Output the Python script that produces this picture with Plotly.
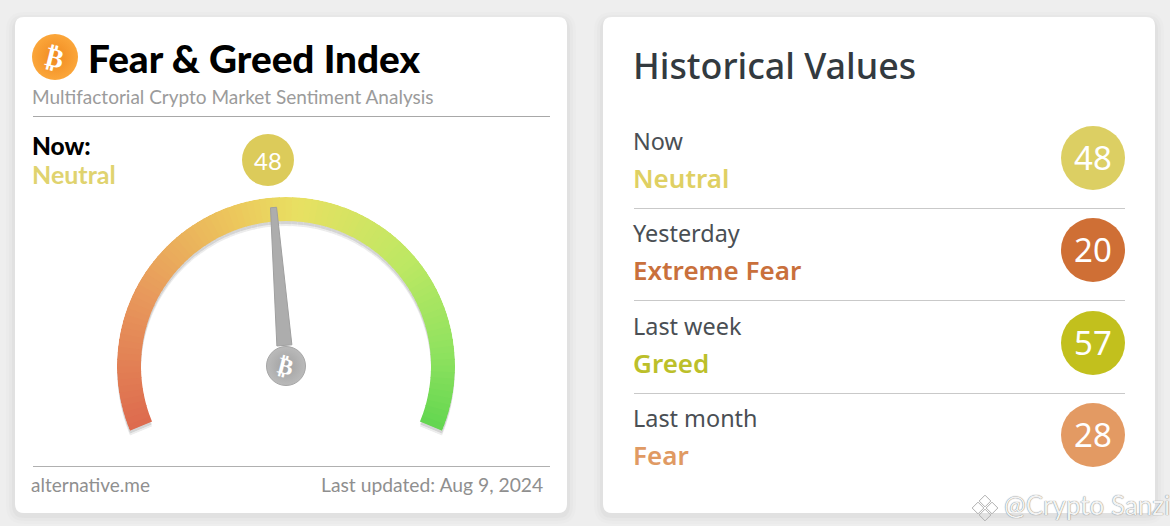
# %%
import plotly.graph_objects as go
from plotly.colors import sample_colorscale

# %% data
periods = ['Now', 'Yesterday', 'Last week', 'Last month']
labels = ['Neutral', 'Extreme Fear', 'Greed', 'Fear']
values = [48, 20, 57, 28]
row_colours = ['#dfd063', '#c9703c', '#bcbf2a', '#e09a63']
disc_colours = ['#dccf63', '#cf6f35', '#c2c01d', '#e39a63']
current_value = 48
current_label = 'Neutral'

gauge_stops = [[0, '#dd6a4e'], [0.22, '#e8995c'], [0.42, '#ecc85c'], [0.52, '#e8e062'],
               [0.72, '#bde863'], [0.88, '#8fe25f'], [1, '#63d650']]

W, H = 1170, 526
lato = 'Lato'
nun = 'Noto Sans'
row_y = [141, 233, 326, 418]
sub_y = [178, 270, 363, 455]
disc_y = [158, 250, 343, 435]
rule_y = [208, 300, 393]


def card(x0, y0, x1, y1, r=9):
    return (f'M{x0+r},{y0} L{x1-r},{y0} Q{x1},{y0} {x1},{y0+r} L{x1},{y1-r} Q{x1},{y1} {x1-r},{y1} '
            f'L{x0+r},{y1} Q{x0},{y1} {x0},{y1-r} L{x0},{y0+r} Q{x0},{y0} {x0+r},{y0} Z')


def label(x, y, text, size, colour, family=lato, weight=400, anchor='left'):
    # annotations carry about 3px of padding on the left
    fig.add_annotation(x=x, y=y, text=text, showarrow=False, xanchor=anchor, yanchor='middle',
                       xshift=-3 if anchor == 'left' else 2, xref='x', yref='y',
                       font=dict(family=family, size=size, color=colour, weight=weight))


def rule(x0, x1, y, colour):
    fig.add_shape(type='line', x0=x0, x1=x1, y0=y + 0.5, y1=y + 0.5, line=dict(color=colour, width=1), layer='below')


fig = go.Figure()

# %% cards
for x0, x1 in [(15, 567), (603, 1155)]:
    for grow, alpha in [(9, 0.012), (6, 0.016), (3, 0.022)]:
        fig.add_shape(type='path', path=card(x0-grow, 17-grow+4, x1+grow, 513+grow+2, 9+grow), fillcolor=f'rgba(0,0,0,{alpha})',
                      line_width=0, layer='below')
    fig.add_shape(type='path', path=card(x0, 17, x1, 513), fillcolor='white', line_width=0, layer='below')

# %% left card header
fig.add_trace(go.Scatter(x=[55], y=[57], mode='markers', hoverinfo='skip', showlegend=False,
                         marker=dict(size=46, color='#fba63a', line_width=0,
                                     gradient=dict(type='radial', color='#f08a20'))))
fig.add_annotation(x=55, y=57, text='₿', textangle=14, showarrow=False, xref='x', yref='y',
                   font=dict(family='DejaVu Sans', size=27, color='white', weight=700))
label(89, 58, 'Fear &amp; Greed Index', 38.7, '#000000', weight=900)
label(33, 96, 'Multifactorial Crypto Market Sentiment Analysis', 19, '#9b9b9b')
rule(33, 550, 116, '#a8a8a8')
label(33, 145, 'Now:', 24.5, '#000000', weight=900)
label(33, 174, current_label, 25, '#e0d36f', weight=700)
fig.add_trace(go.Scatter(x=[268], y=[160], mode='markers', hoverinfo='skip', showlegend=False,
                         marker=dict(size=52, color='#dccb5a', line_width=0)))
fig.add_annotation(x=268, y=160, text=str(current_value), showarrow=False, xref='x', yref='y',
                   font=dict(family=lato, size=24, color='white'))
rule(33, 550, 466, '#b0b0b0')
label(32, 484, 'alternative.me', 19, '#8f8f8f')
label(543, 484, 'Last updated: Aug 9, 2024', 19.3, '#8f8f8f', anchor='right')

# %% gauge
steps = [i + 0.5 for i in range(100)]
gauge_colours = sample_colorscale(gauge_stops, [s / 100 for s in steps])
thetas = [s * 2.25 for s in steps]
for sub, op in [('polar', 0.07), ('polar2', 0.10)]:
    fig.add_trace(go.Barpolar(theta=thetas, r=[24] * 100, base=145, width=2.3, subplot=sub, opacity=op, hoverinfo='skip',
                              marker=dict(color='#000000', line_width=0), showlegend=False))
fig.add_trace(go.Barpolar(theta=thetas, r=[24] * 100, base=145, width=2.6, subplot='polar3', hoverinfo='skip',
                          marker=dict(color=gauge_colours, line_width=0), showlegend=False))
needle_theta = current_value * 2.25
fig.add_trace(go.Scatterpolar(r=[159, 159, 22, 22, 159],
                              theta=[needle_theta - 1.1, needle_theta + 1.1, needle_theta + 20,
                                     needle_theta - 20, needle_theta - 1.1],
                              mode='lines', fill='toself', fillcolor='#adadad', subplot='polar3', hoverinfo='skip',
                              line=dict(color='#9f9f9f', width=1), cliponaxis=False, showlegend=False))
fig.add_trace(go.Scatterpolar(r=[0], theta=[0], mode='markers', subplot='polar3', hoverinfo='skip', cliponaxis=False,
                              marker=dict(size=39, color='#bababa', line=dict(color='#a6a6a6', width=1),
                                          gradient=dict(type='radial', color='#a0a0a0')), showlegend=False))
fig.add_annotation(x=285.5, y=366, text='₿', textangle=14, showarrow=False, xref='x', yref='y',
                   font=dict(family='DejaVu Sans', size=23, color='white', weight=700))

# %% right card
label(634, 65, 'Historical Values', 35.8, '#333a3f', family=nun, weight=500)
for i in range(4):
    label(634, row_y[i], periods[i], 23.4, '#4a4f54', family=nun)
    label(634, sub_y[i], labels[i], 26, row_colours[i], family=nun, weight=600)
fig.add_trace(go.Scatter(x=[1093] * 4, y=disc_y, mode='markers', hoverinfo='skip', showlegend=False,
                         marker=dict(size=64, color=disc_colours, line_width=0)))
for i in range(4):
    fig.add_annotation(x=1093, y=disc_y[i] - 1, text=str(values[i]), showarrow=False, xref='x', yref='y',
                       font=dict(family=nun, size=33, color='white'))
for y in rule_y:
    rule(634, 1125, y, '#c9c9c9')

# %% watermark
fig.add_trace(go.Scatter(x=[985, 978, 992, 985], y=[501, 508, 508, 515], mode='markers', hoverinfo='skip', showlegend=False,
                         marker=dict(symbol='diamond-open', size=9, color='#b0b0b0', line_width=1)))
fig.add_annotation(x=1002, y=505, text='@Crypto Sanzi', showarrow=False, xanchor='left', yanchor='middle', xref='x', yref='y',
                   font=dict(family='Lato', size=26, color='#f2f2f2', shadow='0 0 1px #555555'))

# %% layout
def domain(x0, x1, y0, y1):
    return dict(x=[x0 / W, x1 / W], y=[1 - y1 / H, 1 - y0 / H])


def polar(dy):
    return dict(domain=domain(117, 455, 197 + dy, 430.7 + dy), sector=[-22.5, 202.5], bgcolor='rgba(0,0,0,0)',
                radialaxis=dict(visible=False, range=[0, 169]),
                angularaxis=dict(visible=False, direction='clockwise', rotation=202.5), barmode='overlay')


fig.update_layout(width=W, height=H, margin=dict(l=0, r=0, t=0, b=0), paper_bgcolor='#eeeeee', plot_bgcolor='rgba(0,0,0,0)',
                  xaxis=dict(visible=False, range=[0, W], fixedrange=True),
                  yaxis=dict(visible=False, range=[H, 0], fixedrange=True),
                  polar=polar(5), polar2=polar(3), polar3=polar(0), showlegend=False)
fig.write_html('out.html', config=dict(displayModeBar=False),
               post_script="document.body.style.margin='0';document.body.style.overflow='hidden';")
